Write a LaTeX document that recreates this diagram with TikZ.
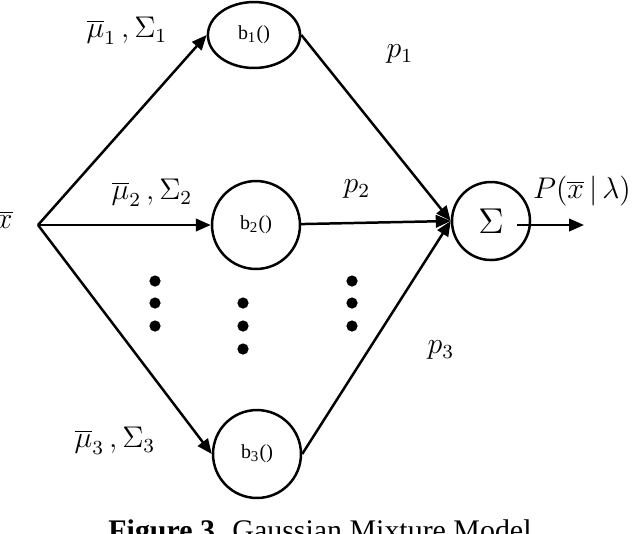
\documentclass[tikz,border=0pt]{standalone}
\usepackage{fontspec}
\setmainfont{Liberation Serif}
\usetikzlibrary{positioning}
\usetikzlibrary{arrows.meta}
\usetikzlibrary{shapes.geometric}
\tikzset{x=0.0141cm, y=-0.0141cm,
gauss/.style={ % Sets the properties for each component
circle,
draw,
line width=1pt,
minimum size=1.24cm,
inner sep=0pt,
font=\footnotesize},
every edge/.style={ % Sets the properties for each connector
draw,
-{Triangle[length=6pt,width=5pt]}, % filled heads
line width=1pt},
dot/.style={circle,fill,inner sep=0pt,minimum size=4.5pt},
lbl/.style={inner sep=0pt,font=\large}}

\begin{document}
\begin{tikzpicture}
\useasboundingbox (0,0) rectangle (640,533);
\coordinate (x) at (38,225);
\node[gauss, ellipse, minimum width=1.30cm, minimum height=0.93cm] (b1) at (254,35) {b\textsubscript{1}()};
\node[gauss] (b2) at (256,225) {b\textsubscript{2}()};
\node[gauss] (b3) at (257,454) {b\textsubscript{3}()};
\node[gauss, minimum size=1.10cm, font=\Large] (sum) at (491,221) {$\Sigma$};
\coordinate (tail) at (517,225);
\coordinate (out) at (584,225);
\node[lbl, anchor=east] (xl) at (13,220) {$\overline{x}$};
\node[lbl] (m1) at (127,31) {$\overline{\mu}_1\,,\Sigma_1$};
\node[lbl] (m2) at (152,193) {$\overline{\mu}_2\,,\Sigma_2$};
\node[lbl] (m3) at (115,441) {$\overline{\mu}_3\,,\Sigma_3$};
\node[lbl] (p1) at (400,54) {$p_1$};
\node[lbl] (p2) at (357,189) {$p_2$};
\node[lbl] (p3) at (441,350) {$p_3$};
\node[lbl] (px) at (582,191) {$P(\overline{x}\,|\,\lambda)$};
\draw (x) edge (b1.west) ;
\draw (x) edge (b2) ;
\draw (x) edge (b3.west) ;
\draw (b1.east) edge (sum.west) ;
\draw (b2) edge (sum.west) ;
\draw (b3.east) edge (sum.west) ;
\draw (tail) edge (out) ;
\foreach \y [count=\i] in {281,303,326} {
\node[dot] (da\i) at (155,\y) {};
\node[dot] (dc\i) at (352,\y) {};
}
\foreach \y [count=\i] in {303,326,349} \node[dot] (db\i) at (243,\y) {};
\node[anchor=base, font=\large] (cap) at (320,540) {\textbf{Figure 3}. Gaussian Mixture Model};
\end{tikzpicture}
\end{document}
